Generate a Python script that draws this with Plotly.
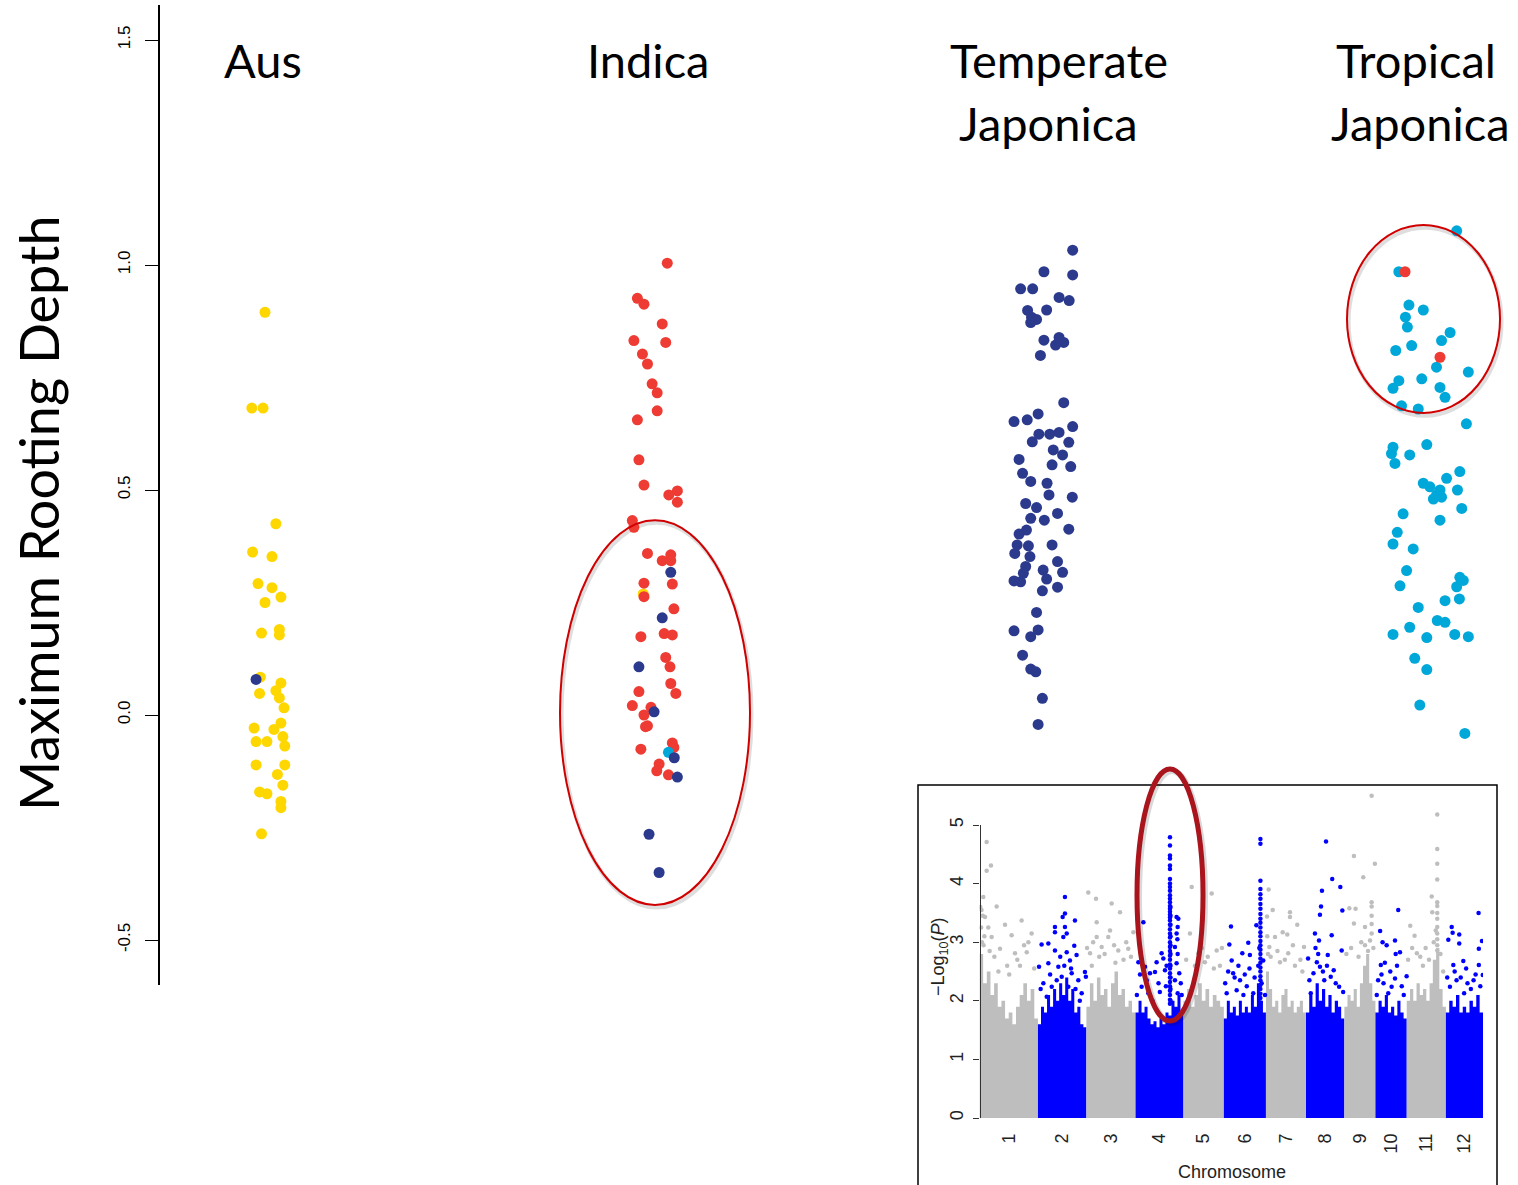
import numpy as np
import plotly.graph_objects as go

W, H = 1518, 1185

# ---------------- main chart data ----------------
group_names = ["Aus", "Indica", "Temperate Japonica", "Tropical Japonica"]

# Aus (group 1)
aus_val = [0.895, 0.682, 0.682, 0.425, 0.362, 0.352, 0.292, 0.283, 0.262, 0.250, 0.182, 0.190,
           0.178, 0.084, 0.071, 0.048, 0.054, 0.038, 0.016, -0.018, -0.029, -0.032, -0.048,
           -0.059, -0.059, -0.069, -0.111, -0.111, -0.132, -0.156, -0.171, -0.175, -0.192,
           -0.206, -0.264, 0.079]
aus_jit = [0.000, -0.034, -0.005, 0.028, -0.032, 0.018, -0.018, 0.018, 0.041, 0.000, -0.009, 0.037,
           0.037, -0.012, 0.041, -0.014, 0.028, 0.037, 0.049, 0.041, -0.028, 0.023, 0.046,
           -0.023, 0.005, 0.051, -0.023, 0.051, 0.032, 0.046, -0.014, 0.005, 0.041,
           0.041, -0.009, -0.023]
aus_col = ["Y"] * 35 + ["N"]

# Indica (group 2)
indica_val = [0.269,
              1.004, 0.926, 0.913, 0.869, 0.832, 0.828, 0.802, 0.780, 0.736, 0.716, 0.676, 0.656,
              0.567, 0.511, 0.498, 0.489, 0.473, 0.432, 0.417, 0.359, 0.343, 0.356, 0.343, 0.293,
              0.291, 0.263, 0.236, 0.174, 0.181, 0.178, 0.128, 0.107, 0.070, 0.048, 0.052, 0.021,
              0.017, 0.000, -0.024, -0.026, -0.076, -0.062, -0.072, -0.109, -0.124, -0.133,
              -0.083,
              0.317, 0.216, 0.107, 0.007, -0.095, -0.138, -0.265, -0.350]
indica_jit = [-0.026,
              0.036, -0.041, -0.024, 0.023, -0.050, 0.032, -0.028, -0.015, -0.003, 0.010, 0.010, -0.041,
              -0.037, -0.024, 0.062, 0.040, 0.062, -0.054, -0.050, -0.015, 0.023, 0.045, 0.045, -0.024,
              0.049, -0.024, 0.053, -0.032, 0.028, 0.049, 0.032, 0.043, 0.045, 0.058, -0.037, -0.054,
              -0.006, -0.024, -0.015, -0.020, -0.032, 0.049, 0.053, 0.015, 0.009, 0.039,
              0.039,
              0.045, 0.023, -0.037, 0.002, 0.054, 0.062, -0.011, 0.015]
indica_col = ["Y"] + ["R"] * 46 + ["C"] + ["N"] * 8

# Temperate Japonica (group 3)
temperate_val = [1.033, 0.985, 0.978, 0.947, 0.947, 0.928, 0.921, 0.899, 0.900, 0.884, 0.879, 0.872,
                 0.833, 0.839, 0.828, 0.822, 0.799,
                 0.694, 0.652, 0.656, 0.669, 0.641, 0.624, 0.607, 0.624, 0.628, 0.606, 0.589, 0.578,
                 0.568, 0.556, 0.552, 0.537, 0.519, 0.515, 0.489, 0.484, 0.470, 0.461, 0.437, 0.433,
                 0.448, 0.413, 0.411, 0.402, 0.378, 0.376, 0.378, 0.359, 0.352, 0.341, 0.330, 0.322,
                 0.317, 0.315, 0.302, 0.298, 0.296, 0.276, 0.284, 0.228, 0.187, 0.174, 0.189, 0.133,
                 0.102, 0.096, 0.037, -0.021]
temperate_jit = [0.080, 0.006, 0.080, -0.054, -0.023, 0.045, 0.071, -0.036, 0.013, -0.026, -0.013, -0.028,
                 0.006, 0.045, 0.057, 0.036, -0.003,
                 0.057, -0.071, -0.037, -0.009, 0.080, -0.007, -0.024, 0.021, 0.045, 0.070, 0.030, 0.054,
                 -0.058, 0.027, 0.075, -0.049, -0.028, 0.014, 0.019, 0.079, -0.041, -0.013, -0.028, 0.007,
                 0.041, 0.070, -0.039, -0.058, -0.063, -0.034, 0.027, -0.069, -0.030, 0.041, -0.041, 0.004,
                 0.054, -0.047, 0.013, -0.071, -0.054, 0.002, 0.041, -0.013, -0.071, -0.028, -0.009, -0.049,
                 -0.028, -0.015, 0.002, -0.009]
temperate_col = ["N"] * len(temperate_val)

# Tropical Japonica (group 4)
tropical_val = [1.076, 0.985, 0.911, 0.900, 0.884, 0.862, 0.850, 0.832, 0.821, 0.810, 0.773, 0.762,
                0.743, 0.747, 0.726, 0.728, 0.706, 0.687, 0.680, 0.647,
                0.595, 0.581, 0.559, 0.578, 0.601, 0.541, 0.526, 0.515, 0.507, 0.500, 0.489, 0.484,
                0.480, 0.500, 0.459, 0.433, 0.447, 0.406, 0.380, 0.369, 0.321, 0.287, 0.306, 0.299,
                0.285, 0.258, 0.254, 0.239, 0.210, 0.206, 0.195, 0.179, 0.172, 0.179, 0.174, 0.126,
                0.101, 0.022, -0.041,
                0.985, 0.795]
tropical_jit = [0.069, -0.080, -0.054, -0.017, -0.063, -0.058, 0.052, 0.030, -0.047, -0.088, 0.017, 0.099,
                -0.080, -0.021, -0.095, 0.026, 0.039, -0.073, -0.030, 0.094,
                -0.095, -0.099, -0.090, -0.052, -0.008, 0.077, 0.043, -0.017, 0.000, 0.026, 0.017, 0.030,
                0.009, 0.071, 0.082, 0.026, -0.069, -0.084, -0.095, -0.043, -0.060, -0.077, 0.077, 0.086,
                0.069, 0.076, 0.039, -0.030, 0.019, 0.039, -0.052, -0.095, -0.008, 0.064, 0.099, -0.039,
                -0.008, -0.026, 0.090,
                -0.064, 0.026]
tropical_col = ["C"] * 59 + ["R"] * 2

y_ticks = [-0.5, 0.0, 0.5, 1.0, 1.5]
y_tick_text = ["-0.5", "0.0", "0.5", "1.0", "1.5"]

# ---------------- inset (GWAS Manhattan) data ----------------
chrom_names = ["1", "2", "3", "4", "5", "6", "7", "8", "9", "10", "11", "12"]
chrom_len_mb = [43.3, 35.9, 36.4, 35.5, 29.9, 31.2, 29.7, 28.4, 23.0, 23.2, 29.0, 27.5]

# upper edge of the dense (saturated) band of SNPs, read along each chromosome
band_top = [
    [2.8, 2.3, 2.5, 2.1, 2.3, 1.9, 2.0, 1.7, 1.8, 1.6, 1.9, 2.1, 2.3, 2.0, 2.2, 1.7],
    [1.6, 1.9, 1.8, 2.1, 1.9, 2.2, 2.0, 2.3, 2.1, 2.4, 2.0, 2.2, 1.8, 1.9, 1.6, 1.55],
    [1.9, 2.3, 2.0, 2.4, 2.1, 2.2, 1.9, 2.3, 2.5, 2.1, 2.2, 1.9, 2.0, 1.8],
    [1.8, 2.0, 1.8, 1.9, 1.7, 1.6, 1.65, 1.55, 1.7, 1.6, 1.8, 1.75, 2.0, 1.9, 2.1, 1.8],
    [2.0, 2.2, 1.9, 2.1, 2.3, 2.0, 2.2, 1.9, 2.1, 2.0, 1.9],
    [1.7, 2.0, 1.8, 1.9, 1.75, 2.0, 1.8, 1.9, 1.8, 2.1, 1.9, 2.3, 2.0, 1.8],
    [2.5, 2.2, 1.9, 2.0, 1.8, 2.1, 2.2, 1.9, 2.0, 1.8, 1.9, 2.0, 1.8],
    [1.8, 2.1, 1.9, 2.3, 2.0, 2.2, 1.9, 2.1, 1.8, 2.0, 1.9, 1.7],
    [1.9, 2.1, 2.0, 2.2, 1.9, 2.3, 2.6, 2.8, 2.3, 2.0],
    [1.8, 2.0, 1.9, 2.1, 1.8, 1.9, 1.75, 2.0, 1.8, 1.7],
    [2.0, 2.2, 2.0, 2.3, 2.1, 2.2, 2.0, 2.3, 2.7, 2.9, 2.2, 1.9],
    [1.8, 2.0, 1.9, 2.1, 1.8, 1.9, 1.8, 2.0, 1.9, 2.1, 1.8],
]

# individual SNPs above the band: position within chromosome (Mb) and -log10(P)
snp_pos = [
    [0.6, 1.2, 1.8, 2.4, 3.0, 1.5, 4.1, 2.8, 5.3, 8.5, 5.3, 12.7, 18.9, 23.8, 31.2, 38.6, 36.2, 9.0,
     15.2, 26.3, 35.0, 6.5, 11.0, 20.5, 28.0, 33.0, 40.5, 3.6, 7.5, 14.0, 22.0, 30.0],
    [20.0, 20.0, 18.3, 20.0, 21.3, 18.8, 12.6, 12.6, 27.4, 26.9, 2.7, 7.7, 12.6, 21.3, 28.6, 34.8,
     35.5, 0.8, 4.0, 7.7, 15.1, 17.6, 23.7, 25.0, 29.9, 32.4, 10.2, 6.5, 13.9, 22.5, 19.5, 16.5,
     24.5, 9.0, 2.0, 27.8, 31.0],
    [1.4, 7.1, 18.7, 24.9, 7.6, 17.5, 34.8, 7.6, 16.2, 11.3, 23.6, 31.0, 2.7, 5.0, 9.5, 13.5, 20.5,
     27.5, 29.5, 33.0, 0.5, 4.0, 21.5],
    [25.5] * 38 + [25.9] * 10 +
    [30.4, 31.7, 31.2, 30.4, 31.0, 29.2, 31.2, 30.4, 32.4, 29.2, 31.2, 33.5, 34.2,
     5.8, 19.3, 14.4, 20.6, 2.1, 7.0, 10.7, 15.6, 21.8, 4.5, 9.5, 12.5, 17.0, 23.0, 1.0, 3.3, 8.3,
     18.0, 22.5],
    [6.1, 20.9, 4.8, 24.6, 15.9, 11.0, 2.0, 8.5, 13.5, 18.0, 22.5, 27.0, 28.5],
    [27.1] * 29 +
    [24.1, 5.3, 4.1, 13.7, 18.1, 19.3, 5.8, 6.9, 12.0, 19.0, 29.2, 2.1, 9.5, 21.8, 1.0, 3.2, 8.0,
     10.8, 15.5, 17.0, 22.8, 25.5, 26.3, 28.0, 30.5, 14.5],
    [2.0, 0.8, 5.0, 17.8, 17.8, 23.2, 15.8, 12.4, 6.7, 2.5, 28.2, 16.5, 10.4, 1.0, 1.5, 3.5, 8.5,
     14.0, 20.0, 21.5, 25.5, 27.0],
    [14.8, 19.4, 25.4, 11.8, 11.1, 10.3, 26.9, 6.6, 19.0, 9.6, 26.4, 16.1, 1.5, 8.0, 10.3, 20.5,
     18.3, 5.5, 13.5, 24.5, 3.5, 7.0, 9.0, 12.5, 15.5, 22.0, 27.5, 2.5],
    [20.2, 7.1, 22.6, 14.0, 20.2, 20.2, 3.7, 8.3, 7.1, 15.3, 20.2, 19.0, 15.3, 20.2, 20.2, 1.5, 5.0,
     10.5, 12.5, 17.5, 21.5],
    [16.9, 3.5, 14.5, 5.3, 8.3, 18.2, 4.0, 7.0, 14.5, 23.1, 12.0, 2.0, 9.5, 4.5, 6.0, 11.0, 16.0,
     19.5, 21.0, 1.0, 15.0],
    [22.6] * 13 +
    [18.5, 18.9, 2.6, 5.8, 7.5, 14.0, 10.0, 20.0, 25.0, 1.0, 4.0, 12.0, 16.5, 27.0, 21.5],
    [24.2, 4.3, 5.0, 9.9, 9.9, 1.8, 26.7, 24.4, 12.9, 24.4, 27.3, 5.5, 7.9, 16.0, 13.5, 3.0, 6.5,
     11.0, 15.0, 18.5, 20.5, 22.0, 25.5, 1.0],
]
snp_logp = [
    [3.6, 3.25, 3.0, 3.45, 2.95, 3.55, 3.43, 3.77, 4.71, 4.31, 4.22, 3.61, 3.30, 3.12, 3.37, 3.15,
     3.00, 3.09, 2.89, 2.81, 2.83, 3.25, 2.75, 2.6, 2.7, 2.95, 2.55, 3.1, 2.85, 2.5, 2.45, 2.6],
    [3.77, 3.49, 3.43, 3.26, 3.15, 3.09, 3.26, 3.17, 3.37, 2.94, 2.96, 2.98, 2.86, 2.83, 2.78, 2.49,
     2.41, 2.58, 2.30, 2.64, 2.58, 2.41, 2.69, 2.47, 2.35, 2.13, 2.24, 2.07, 2.35, 2.24, 2.6, 2.75,
     2.55, 2.45, 2.2, 2.2, 2.0],
    [3.85, 3.74, 3.66, 3.51, 3.34, 3.20, 3.17, 3.09, 3.09, 2.92, 2.86, 2.89, 2.81, 3.0, 2.75, 2.8,
     2.95, 2.7, 3.0, 2.75, 2.9, 2.6, 2.65],
    [4.79, 4.65, 4.48, 4.43, 4.31, 4.25, 4.08, 4.00, 3.94, 3.88, 3.80, 3.74, 3.68, 3.62, 3.57, 3.52,
     3.47, 3.42, 3.37, 3.30, 3.22, 3.15, 3.08, 3.00, 2.92, 2.85, 2.77, 2.70, 2.62, 2.55, 2.47, 2.40,
     2.32, 2.25, 2.17, 2.10, 2.02, 1.95,
     3.6, 3.45, 3.3, 3.1, 2.95, 2.8, 2.6, 2.4, 2.2, 2.0,
     3.43, 3.40, 3.26, 3.15, 3.05, 2.92, 2.80, 2.64, 2.47, 2.35, 2.13, 2.3, 2.1,
     3.34, 2.81, 2.49, 2.72, 2.66, 2.58, 2.47, 2.66, 2.52, 2.24, 2.13, 2.0, 2.3, 2.6, 2.1, 2.45, 2.35,
     2.15, 2.25],
    [3.94, 3.83, 3.15, 2.86, 2.66, 2.81, 2.7, 2.6, 2.9, 2.75, 2.55, 2.6, 2.9],
    [4.76, 4.68, 4.05, 3.91, 3.82, 3.74, 3.65, 3.57, 3.48, 3.40, 3.33, 3.25, 3.17, 3.10, 3.02, 2.95,
     2.87, 2.80, 2.72, 2.65, 2.57, 2.50, 2.42, 2.35, 2.27, 2.20, 2.12, 2.05, 1.97,
     3.29, 3.27, 2.96, 2.81, 2.99, 2.78, 2.69, 2.47, 2.35, 2.55, 2.69, 2.13, 2.18, 2.13, 2.3, 2.5, 2.4,
     2.6, 2.45, 2.25, 2.4, 2.6, 2.9, 2.3, 2.1, 2.1],
    [3.90, 3.44, 3.55, 3.51, 3.43, 3.30, 3.13, 3.17, 3.09, 2.92, 2.92, 2.81, 2.66, 3.1, 2.8, 2.75,
     2.85, 2.7, 2.95, 2.6, 2.7, 2.5],
    [4.72, 4.08, 3.94, 3.88, 3.61, 3.47, 3.54, 3.15, 3.12, 3.03, 2.86, 2.78, 2.72, 2.66, 2.58, 2.52,
     2.41, 2.47, 2.35, 2.24, 2.13, 2.9, 2.8, 2.5, 2.6, 2.3, 2.15, 2.35],
    [5.50, 4.47, 4.34, 4.11, 3.68, 3.61, 3.58, 3.57, 3.32, 3.26, 3.31, 3.03, 2.95, 3.15, 3.45, 2.8,
     2.9, 2.75, 3.0, 2.85, 2.9],
    [3.55, 3.19, 3.03, 3.00, 2.95, 2.83, 2.61, 2.65, 2.38, 2.42, 2.24, 2.35, 2.13, 2.45, 2.3, 2.5,
     2.6, 2.25, 2.1, 2.1, 2.8],
    [5.18, 4.59, 4.34, 4.07, 3.68, 3.62, 3.50, 3.40, 3.26, 3.15, 3.05, 2.95, 2.86,
     3.78, 3.51, 3.28, 3.11, 2.81, 2.9, 2.75, 3.0, 2.8, 2.7, 2.9, 2.6, 2.7, 2.5, 3.2],
    [3.50, 3.26, 3.16, 3.13, 2.98, 3.04, 3.02, 2.89, 2.68, 2.61, 2.44, 2.61, 2.35, 2.3, 2.13, 2.24,
     2.5, 2.4, 2.55, 2.2, 2.35, 2.45, 2.25, 2.4],
]
logp_ticks = [0, 1, 2, 3, 4, 5]

# ---------------- styling ----------------
colour_map = {"Y": "#FFD700", "R": "#EE3B33", "N": "#2B3A8D", "C": "#00A8DA"}
GRAY, BLUE = "#BEBEBE", "#0000FF"


def px(x):
    return x / W


def py(y):
    return 1 - y / H


# group 1 centre at pixel 265, group spacing 388.3 px
SPACING = 388.3
x_range = [1 + (160 - 265) / SPACING, 1 + (W - 265) / SPACING]

fig = go.Figure()

groups = [(aus_val, aus_jit, aus_col), (indica_val, indica_jit, indica_col),
          (temperate_val, temperate_jit, temperate_col), (tropical_val, tropical_jit, tropical_col)]
for gi, (vals, jits, cols) in enumerate(groups):
    xs = [gi + 1 + j for j in jits]
    fig.add_trace(go.Scatter(
        x=xs, y=vals, mode="markers", name=group_names[gi], showlegend=False,
        marker=dict(size=11, color=[colour_map[c] for c in cols], line=dict(width=0)),
        xaxis="x", yaxis="y", hoverinfo="skip"))

# inset manhattan
starts = np.concatenate([[0.0], np.cumsum(chrom_len_mb)[:-1]])
ends = np.cumsum(chrom_len_mb)
mids = (starts + ends) / 2
for ci in range(12):
    col = GRAY if ci % 2 == 0 else BLUE
    h = list(band_top[ci])
    edges = list(np.linspace(starts[ci], ends[ci], len(h) + 1))
    fig.add_trace(go.Scatter(
        x=[starts[ci]] + edges + [ends[ci]], y=[0] + h + [h[-1], 0],
        mode="lines", line_shape="hv", fill="toself", fillcolor=col,
        line=dict(width=0, color=col),
        xaxis="x2", yaxis="y2", showlegend=False, hoverinfo="skip"))
for parity, col in ((0, GRAY), (1, BLUE)):
    xs, ys = [], []
    for ci in range(parity, 12, 2):
        xs += [starts[ci] + p for p in snp_pos[ci]]
        ys += snp_logp[ci]
    fig.add_trace(go.Scatter(
        x=xs, y=ys, mode="markers", marker=dict(size=4.5, color=col, line=dict(width=0)),
        xaxis="x2", yaxis="y2", showlegend=False, hoverinfo="skip"))

shapes = []
# main-plot ellipses (shadow + red line)
for (x0, x1, y0, y1) in [(1 + (560 - 265) / SPACING, 1 + (750 - 265) / SPACING, -0.422, 0.433),
                         (1 + (1347 - 265) / SPACING, 1 + (1500 - 265) / SPACING, 0.671, 1.089)]:
    shapes.append(dict(type="circle", xref="x", yref="y", x0=x0 + 0.004, x1=x1 + 0.004,
                       y0=y0 - 0.006, y1=y1 - 0.006, line=dict(color="rgba(0,0,0,0.13)", width=4),
                       layer="below"))
    shapes.append(dict(type="circle", xref="x", yref="y", x0=x0, x1=x1, y0=y0, y1=y1,
                       line=dict(color="#D00000", width=2)))
# inset frame
shapes.append(dict(type="rect", xref="paper", yref="paper", x0=px(918), x1=px(1497),
                   y0=py(1192), y1=py(785), line=dict(color="black", width=1.5)))
# inset y axis line (0 to 5)
shapes.append(dict(type="line", xref="paper", yref="y2", x0=px(980.5), x1=px(980.5), y0=0, y1=5,
                   line=dict(color="#333333", width=1)))
# dark red ellipse around chromosome 4 peak
shapes.append(dict(type="circle", xref="paper", yref="paper", x0=px(1139), x1=px(1205),
                   y0=py(1023), y1=py(771), line=dict(color="rgba(0,0,0,0.15)", width=6)))
shapes.append(dict(type="circle", xref="paper", yref="paper", x0=px(1137), x1=px(1203),
                   y0=py(1021), y1=py(769), line=dict(color="#AA141C", width=5)))

annotations = []
title_font = dict(family="Lato, Carlito, sans-serif", size=47, color="black")
for text, x, y in [("Aus", 263, 60), ("Indica", 648, 60), ("Temperate", 1059, 60),
                   ("Japonica", 1048, 123), ("Tropical", 1416, 60), ("Japonica", 1420, 123)]:
    annotations.append(dict(text=text, x=px(x), y=py(y), xref="paper", yref="paper",
                            xanchor="center", yanchor="middle", showarrow=False, font=title_font))
annotations.append(dict(text="Maximum Rooting Depth", x=px(38), y=py(513), xref="paper", yref="paper",
                        xanchor="center", yanchor="middle", textangle=-90, showarrow=False,
                        font=dict(family="Lato, sans-serif", size=54, color="black")))
annotations.append(dict(text="\u2212Log<sub>10</sub>(<i>P</i>)", x=px(939), y=py(957), xref="paper",
                        yref="paper", xanchor="center", yanchor="middle", textangle=-90,
                        showarrow=False,
                        font=dict(family="Liberation Sans, Arial, sans-serif", size=18, color="#222")))
annotations.append(dict(text="Chromosome", x=px(1232), y=py(1172), xref="paper", yref="paper",
                        xanchor="center", yanchor="middle", showarrow=False,
                        font=dict(family="Liberation Sans, Arial, sans-serif", size=18, color="#222")))

fig.update_layout(
    width=W, height=H, margin=dict(l=0, r=0, t=0, b=0),
    paper_bgcolor="white", plot_bgcolor="rgba(0,0,0,0)", showlegend=False,
    xaxis=dict(domain=[px(160), 1.0], range=x_range, visible=False, fixedrange=True),
    yaxis=dict(domain=[py(985), py(5)], range=[-0.6, 1.5 + 35 / 450], showline=True,
               linecolor="black", linewidth=1.5, ticks="outside", ticklen=13, tickwidth=1.2,
               tickcolor="black", tickvals=y_ticks, ticktext=y_tick_text, tickangle=-90,
               showgrid=False, zeroline=False, ticklabelstandoff=8,
               tickfont=dict(family="Liberation Sans, Arial, sans-serif", size=17, color="black")),
    xaxis2=dict(domain=[px(979.5), px(1483)], range=[0, float(ends[-1])], anchor="y2",
                tickvals=list(mids), ticktext=chrom_names, tickangle=-90, ticks="",
                showline=False, showgrid=False, zeroline=False, ticklabelstandoff=9,
                tickfont=dict(family="Liberation Sans, Arial, sans-serif", size=18, color="#222")),
    yaxis2=dict(domain=[py(1119.8), py(786.9)], range=[-0.03, 5.65], anchor="x2",
                tickvals=logp_ticks, ticktext=[str(t) for t in logp_ticks], tickangle=-90,
                ticks="outside", ticklen=6, tickcolor="#333", showline=False, showgrid=False,
                zeroline=False, ticklabelstandoff=2,
                tickfont=dict(family="Liberation Sans, Arial, sans-serif", size=18, color="#222")),
    shapes=shapes, annotations=annotations,
)

fig.write_html("out.html")
